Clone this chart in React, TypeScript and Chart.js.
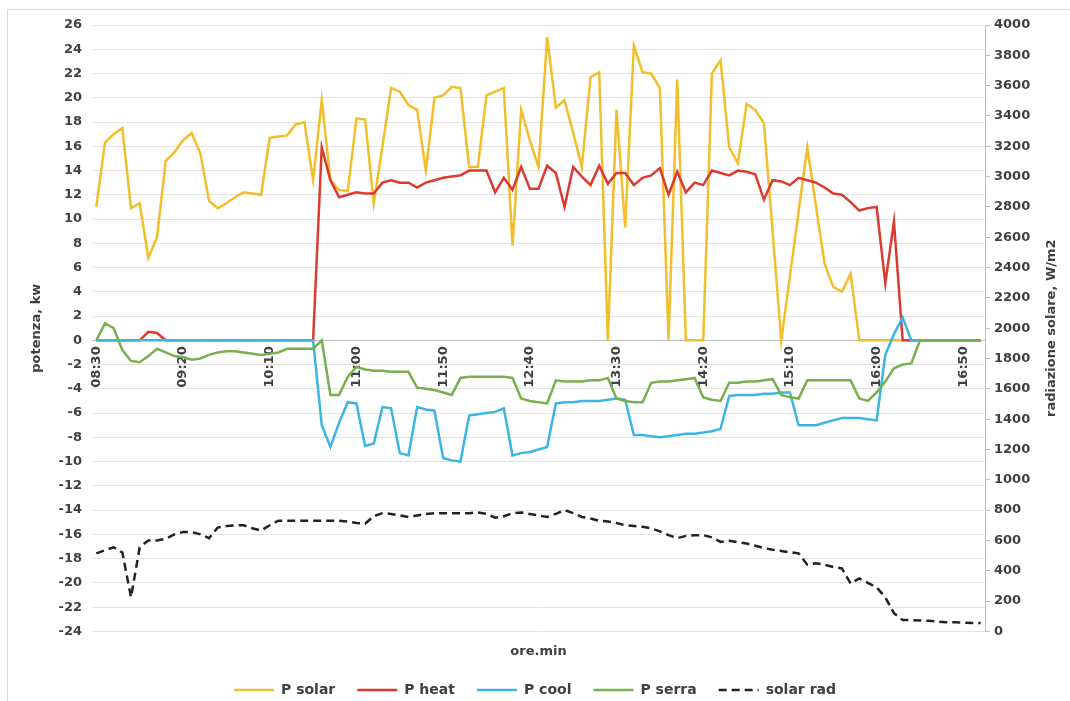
import React, { useEffect, useRef } from "react";
import { Chart, registerables } from "chart.js";

Chart.register(...registerables);

const times = [
  "08:30", "08:35", "08:40", "08:45", "08:50", "08:55",
  "09:00", "09:05", "09:10", "09:15", "09:20", "09:25", "09:30", "09:35", "09:40", "09:45", "09:50", "09:55",
  "10:00", "10:05", "10:10", "10:15", "10:20", "10:25", "10:30", "10:35", "10:40", "10:45", "10:50", "10:55",
  "11:00", "11:05", "11:10", "11:15", "11:20", "11:25", "11:30", "11:35", "11:40", "11:45", "11:50", "11:55",
  "12:00", "12:05", "12:10", "12:15", "12:20", "12:25", "12:30", "12:35", "12:40", "12:45", "12:50", "12:55",
  "13:00", "13:05", "13:10", "13:15", "13:20", "13:25", "13:30", "13:35", "13:40", "13:45", "13:50", "13:55",
  "14:00", "14:05", "14:10", "14:15", "14:20", "14:25", "14:30", "14:35", "14:40", "14:45", "14:50", "14:55",
  "15:00", "15:05", "15:10", "15:15", "15:20", "15:25", "15:30", "15:35", "15:40", "15:45", "15:50", "15:55",
  "16:00", "16:05", "16:10", "16:15", "16:20", "16:25", "16:30", "16:35", "16:40", "16:45", "16:50", "16:55",
  "17:00",
];

const tickLabels = ["08:30", "09:20", "10:10", "11:00", "11:50", "12:40", "13:30", "14:20", "15:10", "16:00", "16:50"];

const pSolar = [
  11.0, 16.3, 17.0, 17.5, 10.9, 11.3, 6.8, 8.5, 14.8, 15.5,
  16.5, 17.1, 15.4, 11.5, 10.9, 11.3, 11.8, 12.2, 12.1, 12.0,
  16.7, 16.8, 16.9, 17.8, 18.0, 13.2, 19.8, 13.2, 12.4, 12.3,
  18.3, 18.2, 11.3, 16.0, 20.8, 20.5, 19.4, 19.0, 14.0, 20.0,
  20.2, 20.9, 20.8, 14.3, 14.3, 20.2, 20.5, 20.8, 7.8, 19.0,
  16.5, 14.3, 25.0, 19.2, 19.8, 17.1, 14.3, 21.7, 22.1, 0,
  19.0, 9.3, 24.3, 22.1, 22.0, 20.8, 0, 21.5, 0, 0,
  0, 22.0, 23.1, 15.9, 14.6, 19.5, 19.0, 17.9, 9.0, 0,
  5.3, 10.6, 15.9, 11.1, 6.3, 4.4, 4.0, 5.5, 0, 0,
  0, 0, 0, 0, 0, 0, 0, 0, 0, 0,
  0, 0, 0,
];

const pHeat = [
  0, 0, 0, 0, 0, 0, 0.7, 0.6, 0, 0,
  0, 0, 0, 0, 0, 0, 0, 0, 0, 0,
  0, 0, 0, 0, 0, 0, 15.9, 13.2, 11.8, 12.0,
  12.2, 12.1, 12.1, 13.0, 13.2, 13.0, 13.0, 12.6, 13.0, 13.2,
  13.4, 13.5, 13.6, 14.0, 14.0, 14.0, 12.2, 13.4, 12.4, 14.3,
  12.5, 12.5, 14.4, 13.8, 11.0, 14.3, 13.5, 12.8, 14.4, 12.9,
  13.8, 13.8, 12.8, 13.4, 13.6, 14.2, 12.0, 13.9, 12.2, 13.0,
  12.8, 14.0, 13.8, 13.6, 14.0, 13.9, 13.7, 11.6, 13.2, 13.1,
  12.8, 13.4, 13.2, 13.0, 12.6, 12.1, 12.0, 11.4, 10.7, 10.9,
  11.0, 4.7, 9.8, 0, 0, 0, 0, 0, 0, 0,
  0, 0, 0,
];

const pCool = [
  0, 0, 0, 0, 0, 0, 0, 0, 0, 0,
  0, 0, 0, 0, 0, 0, 0, 0, 0, 0,
  0, 0, 0, 0, 0, 0, -7.0, -8.8, -6.8, -5.1,
  -5.2, -8.7, -8.5, -5.5, -5.6, -9.3, -9.5, -5.5, -5.7, -5.8,
  -9.7, -9.9, -10.0, -6.2, -6.1, -6.0, -5.9, -5.6, -9.5, -9.3,
  -9.2, -9.0, -8.8, -5.2, -5.1, -5.1, -5.0, -5.0, -5.0, -4.9,
  -4.8, -4.9, -7.8, -7.8, -7.9, -8.0, -7.9, -7.8, -7.7, -7.7,
  -7.6, -7.5, -7.3, -4.6, -4.5, -4.5, -4.5, -4.4, -4.4, -4.3,
  -4.3, -7.0, -7.0, -7.0, -6.8, -6.6, -6.4, -6.4, -6.4, -6.5,
  -6.6, -1.2, 0.5, 1.9, 0, 0, 0, 0, 0, 0,
  0, 0, 0,
];

const pSerra = [
  0, 1.4, 1.0, -0.8, -1.7, -1.8, -1.3, -0.7, -1.0, -1.3,
  -1.4, -1.6, -1.5, -1.2, -1.0, -0.9, -0.9, -1.0, -1.1, -1.2,
  -1.1, -1.0, -0.7, -0.7, -0.7, -0.7, 0, -4.5, -4.5, -3.0,
  -2.2, -2.4, -2.5, -2.5, -2.6, -2.6, -2.6, -3.9, -4.0, -4.1,
  -4.3, -4.5, -3.1, -3.0, -3.0, -3.0, -3.0, -3.0, -3.1, -4.8,
  -5.0, -5.1, -5.2, -3.3, -3.4, -3.4, -3.4, -3.3, -3.3, -3.1,
  -4.8, -5.0, -5.1, -5.1, -3.5, -3.4, -3.4, -3.3, -3.2, -3.1,
  -4.7, -4.9, -5.0, -3.5, -3.5, -3.4, -3.4, -3.3, -3.2, -4.5,
  -4.7, -4.8, -3.3, -3.3, -3.3, -3.3, -3.3, -3.3, -4.8, -5.0,
  -4.3, -3.4, -2.3, -2.0, -1.9, 0, 0, 0, 0, 0,
  0, 0, 0,
];

const solarRad = [
  515, 535, 555, 520, 225, 555, 600, 600, 610, 640,
  655, 655, 640, 615, 685, 695, 700, 700, 680, 665,
  700, 730, 730, 730, 730, 730, 730, 730, 730, 725,
  715, 710, 760, 780, 775, 765, 755, 765, 775, 780,
  780, 780, 780, 780, 785, 775, 750, 760, 780, 785,
  775, 765, 755, 775, 800, 780, 755, 745, 730, 725,
  715, 700, 695, 690, 680, 660, 635, 615, 630, 635,
  635, 620, 590, 598, 588, 580, 565, 550, 538, 530,
  522, 515, 440, 450, 440, 425, 415, 315, 350, 320,
  290, 225, 120, 75, 75, 72, 70, 65, 60, 60,
  58, 56, 55,
];

const FONT = '"DejaVu Sans", "Liberation Sans", sans-serif';
const TEXT = "#404040";

const rightTitle = {
  id: "rightTitle",
  afterDraw(chart: any) {
    const { ctx, chartArea } = chart;
    ctx.save();
    ctx.translate(1052, (chartArea.top + chartArea.bottom) / 2);
    ctx.rotate(-Math.PI / 2);
    ctx.font = `bold 13px ${FONT}`;
    ctx.fillStyle = TEXT;
    ctx.textAlign = "center";
    ctx.textBaseline = "middle";
    ctx.fillText("radiazione solare, W/m2", 0, 0);
    ctx.restore();
  },
};

export default function App() {
  const ref = useRef<HTMLCanvasElement | null>(null);

  useEffect(() => {
    if (!ref.current) return;
    const tickFont = { family: FONT, size: 13, weight: "bold" as const };
    const legendFont = { family: FONT, size: 14, weight: "bold" as const };
    const chart = new Chart(ref.current, {
      type: "line",
      data: {
        labels: times,
        datasets: [
          { label: "P solar", data: pSolar, borderColor: "#F2BE2C", backgroundColor: "#F2BE2C", yAxisID: "y", order: 5 },
          { label: "P heat", data: pHeat, borderColor: "#DC3A2F", backgroundColor: "#DC3A2F", yAxisID: "y", order: 4 },
          { label: "P cool", data: pCool, borderColor: "#3BB5E3", backgroundColor: "#3BB5E3", yAxisID: "y", order: 3 },
          { label: "P serra", data: pSerra, borderColor: "#79AF4E", backgroundColor: "#79AF4E", yAxisID: "y", order: 2 },
          { label: "solar rad", data: solarRad, borderColor: "#222222", backgroundColor: "#222222", borderDash: [8, 5], yAxisID: "y1", order: 1 },
        ],
      },
      options: {
        animation: false,
        responsive: false,
        devicePixelRatio: 1,
        datasets: { line: { borderWidth: 2.5, pointRadius: 0, tension: 0, fill: false } },
        layout: { padding: { left: 0, right: 0, top: 25, bottom: -6 } },
        plugins: {
          tooltip: { enabled: false },
          legend: {
            position: "bottom",
            labels: {
              usePointStyle: true,
              pointStyle: "line",
              pointStyleWidth: 40,
              padding: 22,
              color: TEXT,
              font: legendFont,
              sort: (a: any, b: any) => a.datasetIndex - b.datasetIndex,
              generateLabels: (c: any) => {
                const items = Chart.defaults.plugins.legend.labels.generateLabels(c);
                items.forEach((it: any) => {
                  const ds: any = c.data.datasets[it.datasetIndex];
                  it.lineDash = ds.borderDash || [];
                  it.lineWidth = 2.5;
                  it.strokeStyle = ds.borderColor;
                  it.fillStyle = ds.borderColor;
                  it.pointStyle = "line";
                });
                return items;
              },
            },
          },
        },
        scales: {
          x: {
            type: "category",
            position: { y: 0 } as any,
            offset: true,
            grid: { display: false, drawTicks: false },
            border: { display: true, color: "#bfbfbf", width: 1 },
            ticks: {
              autoSkip: false,
              minRotation: 90,
              maxRotation: 90,
              padding: 6,
              color: TEXT,
              font: tickFont,
              callback: (_v: any, i: number) => (tickLabels.includes(times[i]) ? times[i] : ""),
            },
            afterFit: (s: any) => {
              s.height = 0;
            },
          },
          x2: {
            type: "category",
            position: "bottom",
            offset: true,
            grid: { display: false, drawTicks: false },
            border: { display: false },
            ticks: { display: false },
            title: { display: true, text: "ore.min", color: TEXT, font: tickFont, padding: { top: 12, bottom: 2 } },
          },
          y: {
            type: "linear",
            position: "left",
            min: -24,
            max: 26,
            ticks: { stepSize: 2, padding: 10, color: TEXT, font: tickFont },
            grid: { color: "#e3e3e3", drawTicks: false },
            border: { display: false },
            title: { display: true, text: "potenza, kw", color: TEXT, font: tickFont, padding: { top: 29, bottom: 0 } },
            afterFit: (s: any) => {
              s.width = 92;
            },
          },
          y1: {
            type: "linear",
            position: "right",
            min: 0,
            max: 4000,
            ticks: { stepSize: 200, padding: 4, color: TEXT, font: tickFont, callback: (v: any) => String(v) },
            grid: { drawOnChartArea: false, color: "#bfbfbf", tickLength: 5, drawTicks: true },
            border: { display: true, color: "#bfbfbf" },
            afterFit: (s: any) => {
              s.width = 85;
            },
          },
        },
      },
      plugins: [rightTitle],
    });
    return () => chart.destroy();
  }, []);

  return (
    <div style={{ position: "fixed", left: 0, top: 0, width: 1070, height: 701, background: "#fff" }}>
      <canvas ref={ref} width={1070} height={701} style={{ position: "absolute", left: 0, top: 0 }} />
      <div
        style={{
          position: "absolute",
          left: 7,
          top: 9,
          width: 1070,
          height: 701,
          border: "1px solid #d9d9d9",
          boxSizing: "border-box",
          pointerEvents: "none",
        }}
      />
    </div>
  );
}
